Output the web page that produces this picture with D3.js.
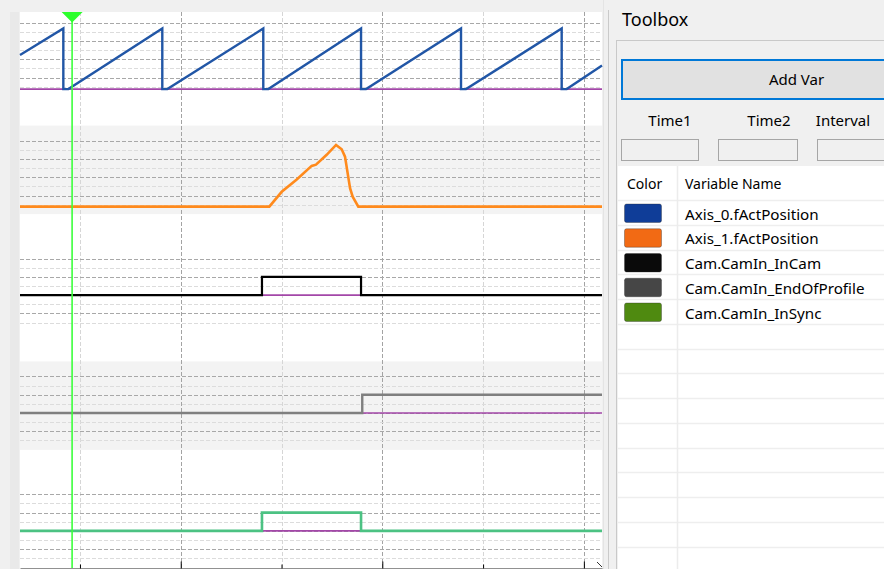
<!DOCTYPE html>
<html>
<head>
<meta charset="utf-8">
<script src="https://cdn.jsdelivr.net/npm/d3@7"></script>
<style>
  body { margin: 0; background: #f0f0f0; overflow: hidden; }
  text { font-family: "Noto Sans", "DejaVu Sans", sans-serif; fill: #000; }
</style>
</head>
<body>
<svg id="scope"></svg>
<script>
// SVG size
var svgWidth = 884;
var svgHeight = 569;

// Plot area of the scope
var plot = {left: 20, top: 12, right: 602, bottom: 568};

// Time axis (ms)
var timeDomain = [405, 6180];
var majorTicks = [2000, 4000, 6000];
var minorTicks = [1000, 3000, 5000];
var cursorTime = 922;

// Channels, top to bottom
var channelNames = ["Axis_0.fActPosition", "Axis_1.fActPosition", "Cam.CamIn_InCam",
                    "Cam.CamIn_EndOfProfile", "Cam.CamIn_InSync"];

// Axis_0 position (deg) - master sawtooth
var axis0Time = [405, 835, 835, 885, 1817, 1817, 1867, 2819, 2819, 2869, 3789, 3789, 3839,
                 4781, 4781, 4831, 5780, 5780, 5830, 6180];
var axis0Pos  = [203, 360, 0, 0, 360, 0, 0, 360, 0, 0, 360, 0, 0,
                 360, 0, 0, 360, 0, 0, 140];

// Axis_1 position (slave, cam profile)
var axis1Time = [405, 2879, 3002, 3151, 3299, 3342, 3448, 3541, 3597, 3630, 3680, 3706, 3762, 6180];
var axis1Pos  = [0, 0, 24, 44, 66, 68, 84, 100, 93, 81, 30, 16, 0, 0];

// Boolean signals
var inCamTime = [405, 2806, 3789, 6180];
var inCamVal  = [0, 1, 0, 0];
var endTime   = [405, 3801, 6180];
var endVal    = [0, 1, 1];
var syncTime  = [405, 2806, 3789, 6180];
var syncVal   = [0, 1, 0, 0];

// Colours
var lineColors   = ["#2156a6", "#ff8a1c", "#000000", "#7f7f7f", "#4cc283"];
var legendColors = ["#0f3d98", "#f26a14", "#0a0a0a", "#464646", "#4f8a10"];

var svg = d3.select("#scope")
    .attr("width", svgWidth)
    .attr("height", svgHeight);

svg.append("rect").attr("width", svgWidth).attr("height", svgHeight).attr("fill", "#f0f0f0");
svg.append("rect").attr("x", 10).attr("y", plot.top).attr("width", 9).attr("height", svgHeight)
    .attr("fill", "#e9e9e9");

// ---------- scope ----------
var x = d3.scaleLinear().domain(timeDomain).range([plot.left, plot.right]);
var chY = d3.scalePoint().domain(channelNames).range([22.7, 494.3]);
var step = 9.15;

var scope = svg.append("g");
scope.append("rect")
    .attr("x", plot.left).attr("y", plot.top)
    .attr("width", plot.right - plot.left).attr("height", svgHeight - plot.top)
    .attr("fill", "#fff");

// shaded bands for every second channel
scope.selectAll(".band")
    .data(channelNames.filter((d, i) => i % 2 == 1))
    .enter().append("rect")
    .attr("x", plot.left).attr("width", plot.right - plot.left)
    .attr("y", d => chY(d) - 15).attr("height", 88.5)
    .attr("fill", "#f3f3f3");

// vertical grid
var vTicks = minorTicks.concat(majorTicks);
scope.selectAll(".vgrid")
    .data(vTicks)
    .enter().append("line")
    .attr("x1", d => Math.round(x(d)) + 0.5).attr("x2", d => Math.round(x(d)) + 0.5)
    .attr("y1", plot.top).attr("y2", plot.bottom)
    .attr("stroke", d => majorTicks.indexOf(d) >= 0 ? "#a3a3a3" : "#d6d6d6")
    .attr("stroke-dasharray", "4,2");

// horizontal grid, 8 lines per channel
channelNames.forEach(function(name, c) {
    var y0 = chY(name);
    scope.selectAll(".hgrid" + c)
        .data(d3.range(8))
        .enter().append("line")
        .attr("x1", plot.left).attr("x2", plot.right)
        .attr("y1", i => Math.round(y0 + i * step) + 0.5)
        .attr("y2", i => Math.round(y0 + i * step) + 0.5)
        .attr("stroke", i => i % 2 == 0 ? "#a8a8a8" : "#dcdcdc")
        .attr("stroke-dasharray", "4,2");
});

// per channel value scales
function channelScale(c) {
    var y0 = chY(channelNames[c]);
    if (c == 0) return d3.scaleLinear().domain([0, 360]).range([y0 + 66.4, y0 + 5.8]);
    if (c == 1) return d3.scaleLinear().domain([0, 100]).range([y0 + 66.0, y0 + 4.3]);
    return d3.scaleLinear().domain([0, 1]).range([y0 + 4 * step, y0 + 2 * step]);
}

var signals = [
    {t: axis0Time, v: axis0Pos, w: 2.4, curve: d3.curveLinear, zero: true},
    {t: axis1Time, v: axis1Pos, w: 2.6, curve: d3.curveLinear, zero: false},
    {t: inCamTime, v: inCamVal, w: 2.2, curve: d3.curveStepAfter, zero: true},
    {t: endTime,   v: endVal,   w: 2.4, curve: d3.curveStepAfter, zero: true},
    {t: syncTime,  v: syncVal,  w: 2.6, curve: d3.curveStepAfter, zero: true}
];

signals.forEach(function(s, c) {
    var y = channelScale(c);
    // zero line
    if (s.zero) {
        scope.append("line")
            .attr("x1", plot.left).attr("x2", plot.right)
            .attr("y1", y(0)).attr("y2", y(0))
            .attr("stroke", "#a347a8").attr("stroke-width", 1.6);
    }
    var pts = s.t.map((t, i) => [t, s.v[i]]);
    var line = d3.line()
        .x(d => x(d[0]))
        .y(d => y(d[1]))
        .curve(s.curve);
    scope.append("path")
        .datum(pts)
        .attr("d", line)
        .attr("fill", "none")
        .attr("stroke", lineColors[c])
        .attr("stroke-width", s.w)
        .attr("stroke-linejoin", "miter");
});

// cursor
var cx = x(cursorTime);
scope.append("line")
    .attr("x1", cx).attr("x2", cx).attr("y1", plot.top).attr("y2", plot.bottom)
    .attr("stroke", "#3cff3c").attr("stroke-width", 1.6);
scope.append("path")
    .attr("d", `M${cx - 10.5},${plot.top}L${cx + 10.5},${plot.top}L${cx},${plot.top + 10.5}Z`)
    .attr("fill", "#2cff2c");

// time axis
scope.append("g")
    .attr("transform", `translate(0, ${plot.bottom + 0.5})`)
    .call(d3.axisTop(x).tickValues(majorTicks).tickSize(7).tickSizeOuter(0).tickFormat(""))
    .call(g => g.select(".domain").attr("stroke", "#222"));
scope.append("g")
    .attr("transform", `translate(0, ${plot.bottom + 0.5})`)
    .call(d3.axisTop(x).tickValues(minorTicks).tickSize(4).tickSizeOuter(0).tickFormat(""))
    .call(g => g.select(".domain").remove());
scope.append("path")
    .attr("d", `M${plot.right - 5},${plot.bottom - 6}L${plot.right},${plot.bottom - 1}`)
    .attr("stroke", "#333").attr("fill", "none");

// splitter between scope and toolbox
svg.append("line").attr("x1", 603.5).attr("x2", 603.5).attr("y1", 0).attr("y2", svgHeight)
    .attr("stroke", "#e4e4e4");
svg.append("line").attr("x1", 608.5).attr("x2", 608.5).attr("y1", 10).attr("y2", svgHeight)
    .attr("stroke", "#cacaca");

// ---------- toolbox ----------
var tb = svg.append("g");
tb.append("text").attr("x", 622).attr("y", 26).style("font-size", "18px").text("Toolbox");

tb.append("rect").attr("x", 616.5).attr("y", 40.5).attr("width", 300).attr("height", 600)
    .attr("fill", "none").attr("stroke", "#c9c9c9");

tb.append("rect").attr("x", 622).attr("y", 60).attr("width", 280).attr("height", 39)
    .attr("fill", "#e1e1e1").attr("stroke", "#0078d7").attr("stroke-width", 2);
tb.append("text").attr("x", 796.5).attr("y", 85).attr("text-anchor", "middle")
    .style("font-size", "15px").text("Add Var");

var fields = [{label: "Time1", cx: 670, bx: 621, bw: 77},
              {label: "Time2", cx: 769, bx: 718, bw: 79},
              {label: "Interval", cx: 843, bx: 817, bw: 80}];
fields.forEach(function(f) {
    tb.append("text").attr("x", f.cx).attr("y", 126).attr("text-anchor", "middle")
        .style("font-size", "15px").text(f.label);
    tb.append("rect").attr("x", f.bx + 0.5).attr("y", 139.5).attr("width", f.bw).attr("height", 21)
        .attr("fill", "#f0f0f0").attr("stroke", "#a6a6a6");
});

// variable table
var rowH = 24.75;
var headBottom = 201;
tb.append("rect").attr("x", 618).attr("y", 166).attr("width", 270).attr("height", 410).attr("fill", "#fff");
tb.selectAll(".rowline")
    .data(d3.range(15))
    .enter().append("line")
    .attr("x1", 618).attr("x2", svgWidth)
    .attr("y1", i => Math.round(headBottom + i * rowH) - 0.5)
    .attr("y2", i => Math.round(headBottom + i * rowH) - 0.5)
    .attr("stroke", "#eeeeee").attr("stroke-width", 1.5);
tb.append("line").attr("x1", 677.5).attr("x2", 677.5).attr("y1", 166).attr("y2", svgHeight)
    .attr("stroke", "#ececec").attr("stroke-width", 1.5);

tb.append("text").attr("x", 627).attr("y", 189).style("font-size", "14px").text("Color");
tb.append("text").attr("x", 685).attr("y", 189).style("font-size", "14px").text("Variable Name");

var rows = tb.selectAll(".row")
    .data(channelNames)
    .enter().append("g")
    .attr("transform", (d, i) => `translate(0, ${headBottom + i * rowH})`);
rows.append("rect")
    .attr("x", 624.5).attr("y", 3).attr("width", 37).attr("height", 18.5).attr("rx", 2)
    .attr("fill", (d, i) => legendColors[i])
    .attr("stroke", "#2a2a2a").attr("stroke-opacity", 0.35);
rows.append("text")
    .attr("x", 685).attr("y", 18.5)
    .style("font-size", "15.2px")
    .text(d => d);
</script>
</body>
</html>
